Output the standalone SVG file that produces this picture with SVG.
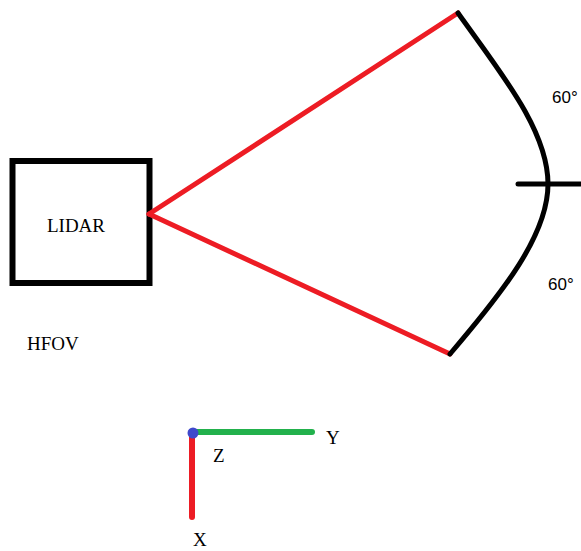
<svg xmlns="http://www.w3.org/2000/svg" width="581" height="551" viewBox="0 0 581 551">
<style>
.serif{font-family:"Liberation Serif","Times New Roman",serif;font-size:19px;fill:#000}
.sans{font-family:"Liberation Sans",Arial,sans-serif;font-size:17px;fill:#000}
.k{stroke:#000;stroke-width:5;fill:none;stroke-linecap:round}
.r{stroke:#ed1c24;stroke-width:5;fill:none;stroke-linecap:round}
</style>
<rect width="581" height="551" fill="#fff"/>
<g id="lidar">
<rect x="12.5" y="161" width="137" height="122" fill="#fff" stroke="#000" stroke-width="6"/>
<text class="serif" x="76" y="232" text-anchor="middle">LIDAR</text>
</g>
<g id="hfov"><text class="serif" x="27" y="350">HFOV</text></g>
<g id="connectors">
<line class="r" x1="149" y1="214" x2="458" y2="13"/>
<line class="r" x1="149" y1="214" x2="450" y2="354"/>
</g>
<g id="arc">
<path class="k" d="M458,13 C500,72 548,130 548,184 C548,235 503,292 450,354"/>
<line class="k" x1="518" y1="184" x2="583" y2="184"/>
<text class="sans" x="552" y="103">60°</text>
<text class="sans" x="548" y="290">60°</text>
</g>
<g id="axes">
<line x1="192" y1="432" x2="312" y2="432" stroke="#22b14c" stroke-width="6" stroke-linecap="round"/>
<line x1="192" y1="433" x2="192" y2="517" stroke="#ed1c24" stroke-width="6" stroke-linecap="round"/>
<circle cx="193" cy="433" r="5.5" fill="#3f48cc"/>
<text class="serif" x="326" y="444">Y</text>
<text class="serif" x="213" y="462">Z</text>
<text class="serif" x="193" y="546">X</text>
</g>
</svg>
